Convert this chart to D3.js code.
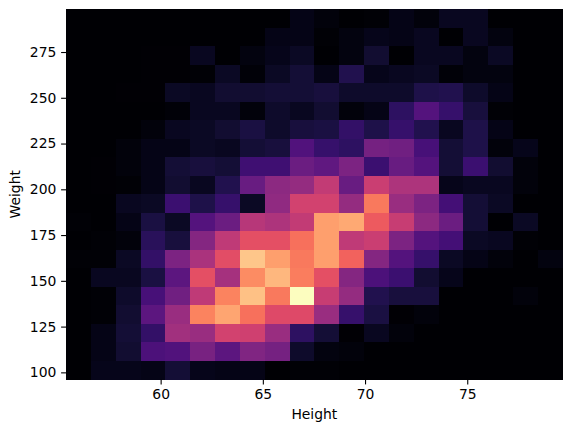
<!DOCTYPE html>
<html><head><meta charset="utf-8">
<script src="https://d3js.org/d3.v7.min.js"></script>
<style>html,body{margin:0;padding:0;background:#fff}svg{display:block}text{font-family:"DejaVu Sans";fill:#000}</style>
</head><body><svg id="c" width="571" height="432"></svg>
<script>
const xDomain=[55.37,79.67];
const yDomain=[96.1,298.5];
const xTicks=[60,65,70,75];
const yTicks=[100,125,150,175,200,225,250,275];
const xLabel="Height";
const yLabel="Weight";
const densityRows=[
[0,0,0,0,0,0,0,0,0,4,2,0,1,4,2,6,6,0,0,0],
[0,0,0,0,0,0,0,0,4,4,1,3,5,4,6,0,6,3,0,0],
[0,0,0,.5,.5,6,0,3,5,7,0,3,9,0,6,6,3,7,0,0],
[0,0,0,.5,.5,1,7,1.5,7,10,4,14,5,6,7,1.5,3,3,0,0],
[0,0,.5,.5,7,6,9,9,10,10,11,8,8,8,13,14,8,4,0,0],
[0,0,0,0,1.5,6,6,2,8,6,9,2,4,17,26,19,11,1,0,0],
[0,0,0,2,6,7,9,12,8,11,12,18,13,19,14,6,13,4,0,0],
[0,0,2,4,4,7,6,10,11,25,19,17,34,33,23,10,13,2,5,0],
[0,.5,2,4,10,11,10,21,21,32,29,36,20,31,26,10,20,9,2,0],
[0,.5,1,4,9,6,14,31,40,42,53,31,55,48,48,5,6,6,2,0],
[0,0,6,7,20,13,19,7,41,57,57,42,72,43,36,22,10,7,0,0],
[1,0,4,12,7,26,32,50,48,53,80,82,65,54,40,32,10,0,7,0],
[0,1,2,16,11,38,52,62,62,70,80,52,55,36,26,22,7,6,1,0],
[1,1,7,18,36,47,61,88,80,72,80,67,38,26,19,7,4,2,0,3],
[0,6,6,12,28,62,46,76,85,73,62,38,24,20,9,5,0,0,0,0],
[0,1,8,23,33,52,74,87,72,100,54,42,14,11,11,0,0,0,2,0],
[0,1,9,28,43,74,81,70,60,60,43,19,12,.5,2,0,0,0,0,0],
[0,4,10,18,45,43,57,56,43,17,10,.5,6,2,0,0,0,0,0,0],
[0,4,9,24,25,35,28,37,34,8,3,2,0,0,0,0,0,0,0,0],
[0,5,5,4,10,5,4,4,0,1,1,0,0,0,0,0,0,0,0,0]
];
const m={l:66,r:562.7,t:9,b:379.5};
const svg=d3.select("#c");
const x=d3.scaleLinear().domain(xDomain).range([m.l,m.r]);
const y=d3.scaleLinear().domain(yDomain).range([m.b,m.t]);
const col=d3.scaleBand().domain(d3.range(20)).range([m.l,m.r]).paddingInner(0);
const row=d3.scaleBand().domain(d3.range(20)).range([m.t,m.b]).paddingInner(0);
const colour=d3.scaleSequential(d3.interpolateMagma).domain([0,100]);
const cells=densityRows.flatMap((r,j)=>r.map((v,i)=>({i,j,v})));
svg.append("g").attr("shape-rendering","crispEdges").selectAll("rect").data(cells).join("rect")
 .attr("x",d=>col(d.i)).attr("y",d=>row(d.j))
 .attr("width",d=>col.bandwidth()+(d.i<19?.5:0)).attr("height",d=>row.bandwidth()+(d.j<19?.5:0))
 .attr("fill",d=>colour(d.v));
const gx=svg.append("g").attr("transform",`translate(0,${m.b})`).call(d3.axisBottom(x).tickValues(xTicks).tickSize(4.9).tickPadding(4.8).tickFormat(d3.format("d")));
const gy=svg.append("g").attr("transform",`translate(${m.l},0)`).call(d3.axisLeft(y).tickValues(yTicks).tickSize(4.9).tickPadding(4.8).tickFormat(d3.format("d")));
[gx,gy].forEach(g=>{g.attr("font-family",null).attr("font-size",null);g.selectAll("text").style("font-size","13.9px");g.selectAll("line").attr("stroke","#000").attr("stroke-width",1.1);g.select(".domain").remove();});
svg.append("text").attr("x",(m.l+m.r)/2).attr("y",419).attr("text-anchor","middle").style("font-size","13.9px").text(xLabel);
svg.append("text").attr("transform",`translate(20,${(m.t+m.b)/2}) rotate(-90)`).attr("text-anchor","middle").style("font-size","13.9px").text(yLabel);
</script></body></html>
